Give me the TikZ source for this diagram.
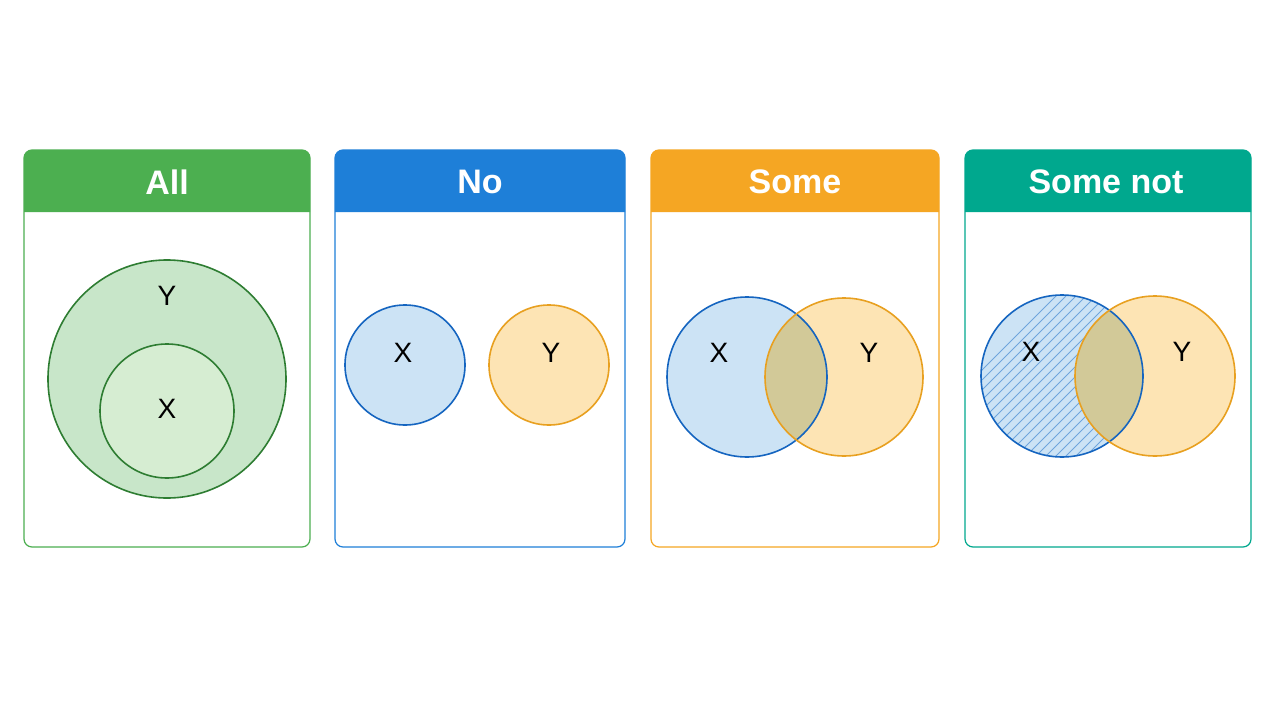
\documentclass[tikz,border=0pt]{standalone}
\usepackage{fontspec}
\setmainfont{Liberation Sans}

\definecolor{allhead}{RGB}{76,175,80}
\definecolor{allline}{RGB}{46,125,50}
\definecolor{allfill}{RGB}{200,230,201}
\definecolor{allin}{RGB}{214,237,210}
\definecolor{nohead}{RGB}{30,127,216}
\definecolor{xline}{RGB}{21,101,192}
\definecolor{xfill}{RGB}{204,227,245}
\definecolor{xhatch}{RGB}{110,165,220}
\definecolor{somehead}{RGB}{245,166,35}
\definecolor{yline}{RGB}{232,160,32}
\definecolor{yfill}{RGB}{253,228,180}
\definecolor{nothead}{RGB}{0,168,142}
\definecolor{both}{RGB}{210,201,152}

\begin{document}
\begin{tikzpicture}[x=1pt,y=-1pt,
    ttl/.style={text=white,font=\fontsize{34}{40}\selectfont\bfseries},
    lbl/.style={text=black,font=\fontsize{28}{32}\selectfont},
    ring/.style={line width=1.6pt}]
        \useasboundingbox[fill=white] (0,0) rectangle (1280,720);
        %%%ALL%%%
        \draw[allhead, line width=1.2pt, rounded corners=8] (24,150) rectangle (310,547);
        \fill[allhead] (24,212) [rounded corners=8] -- (24,150) -- (310,150) [sharp corners] -- (310,212) -- cycle;
        \node[ttl] (all) at (167,182) {All};
        \draw[ring, allline, fill=allfill] (167,379) circle (119);
        \draw[ring, allline, fill=allin] (167,411) circle (67);
        \node[lbl] (ally) at (167,296) {Y};
        \node[lbl] (allx) at (167,409) {X};
        %%%NO%%%
        \draw[nohead, line width=1.2pt, rounded corners=8] (335,150) rectangle (625,547);
        \fill[nohead] (335,212) [rounded corners=8] -- (335,150) -- (625,150) [sharp corners] -- (625,212) -- cycle;
        \node[ttl] (no) at (480,182) {No};
        \draw[ring, xline, fill=xfill] (405,365) circle (60);
        \draw[ring, yline, fill=yfill] (549,365) circle (60);
        \node[lbl] (nox) at (403,353) {X};
        \node[lbl] (noy) at (551,353) {Y};
        %%%SOME%%%
        \draw[somehead, line width=1.2pt, rounded corners=8] (651,150) rectangle (939,547);
        \fill[somehead] (651,212) [rounded corners=8] -- (651,150) -- (939,150) [sharp corners] -- (939,212) -- cycle;
        \node[ttl] (some) at (795,182) {Some};
        \fill[xfill] (747,377) circle (80);
        \fill[yfill] (844,377) circle (79);
        \begin{scope}
          \clip (747,377) circle (80);
          \fill[both] (844,377) circle (79);
        \end{scope}
        \draw[ring, xline] (747,377) circle (80);
        \draw[ring, yline] (844,377) circle (79);
        \node[lbl] (somex) at (719,353) {X};
        \node[lbl] (somey) at (869,353) {Y};
        %%%SOME NOT%%%
        \draw[nothead, line width=1.2pt, rounded corners=8] (965,150) rectangle (1251,547);
        \fill[nothead] (965,212) [rounded corners=8] -- (965,150) -- (1251,150) [sharp corners] -- (1251,212) -- cycle;
        \node[ttl] (somenot) at (1106,182) {Some not};
        \fill[xfill] (1062,376) circle (81);
        \begin{scope}
          \clip (1062,376) circle (81);
          \foreach \k in {-180,-170,...,180}
            \draw[xhatch, line width=0.8pt] (1062+\k,470) -- ++(190,-190);
        \end{scope}
        \fill[yfill] (1155,376) circle (80);
        \begin{scope}
          \clip (1062,376) circle (81);
          \fill[both] (1155,376) circle (80);
        \end{scope}
        \draw[ring, xline] (1062,376) circle (81);
        \draw[ring, yline] (1155,376) circle (80);
        \node[lbl] (notx) at (1031,352) {X};
        \node[lbl] (noty) at (1182,352) {Y};
    \end{tikzpicture}
\end{document}
